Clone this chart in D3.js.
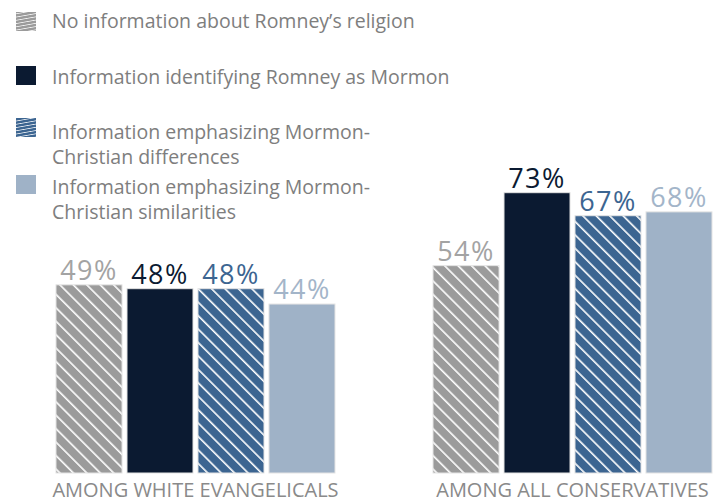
<!DOCTYPE html>
<html>
<head>
<meta charset="utf-8">
<script src="https://cdn.jsdelivr.net/npm/d3@7"></script>
<style>
  body { margin: 0; background: #fff; }
  text { font-family: "Open Sans", sans-serif; }
</style>
</head>
<body>
<div id="chart"></div>
<script>
const groups = ["AMONG WHITE EVANGELICALS", "AMONG ALL CONSERVATIVES"];
const series = ["none", "mormon", "differences", "similarities"];
const legendLabels = [
  ["No information about Romney\u2019s religion"],
  ["Information identifying Romney as Mormon"],
  ["Information emphasizing Mormon-", "Christian differences"],
  ["Information emphasizing Mormon-", "Christian similarities"]
];
const valuesEvangelicals = [49, 48, 48, 44];
const valuesConservatives = [54, 73, 67, 68];

const width = 713, height = 504;
const colors = { none: "#9b9b9b", mormon: "#0b1a31", differences: "#3c6591", similarities: "#9fb2c7" };
const labelColors = { none: "#a3a3a3", mormon: "#0b1a31", differences: "#3c6591", similarities: "#a3b5c9" };

const data = groups.map((g, i) => ({
  group: g,
  values: series.map((s, j) => ({ key: s, value: [valuesEvangelicals, valuesConservatives][i][j] }))
}));

const svg = d3.select("#chart").append("svg")
  .attr("width", width)
  .attr("height", height);

// hatch patterns
const defs = svg.append("defs");
function hatch(id, base, size, stroke, angle) {
  const p = defs.append("pattern")
    .attr("id", id)
    .attr("patternUnits", "userSpaceOnUse")
    .attr("width", size)
    .attr("height", size)
    .attr("patternTransform", "rotate(" + angle + ")");
  p.append("rect").attr("width", size).attr("height", size).attr("fill", base);
  p.append("line")
    .attr("x1", 0).attr("y1", 0).attr("x2", 0).attr("y2", size)
    .attr("stroke", "#fff").attr("stroke-width", stroke);
}
hatch("hatch-none", colors.none, 9.5, 3.2, -45);
hatch("hatch-differences", colors.differences, 9.5, 3.2, -45);
hatch("leg-none", colors.none, 3.2, 1.4, 80);
hatch("leg-differences", colors.differences, 3.2, 1.4, 80);

const fillFor = s => s === "none" ? "url(#hatch-none)" : s === "differences" ? "url(#hatch-differences)" : colors[s];
const legFill = s => s === "none" ? "url(#leg-none)" : s === "differences" ? "url(#leg-differences)" : colors[s];

const x0 = d3.scaleBand()
  .domain(groups)
  .range([56, 712])
  .paddingInner(0.26);

const x1 = d3.scaleBand()
  .domain(series)
  .range([0, x0.bandwidth()])
  .paddingInner(0.07);

const y = d3.scaleLinear()
  .domain([0, 100])
  .range([473, 89]);

const g = svg.selectAll("g.group")
  .data(data)
  .enter().append("g")
    .attr("class", "group")
    .attr("transform", d => "translate(" + x0(d.group) + ",0)");

g.selectAll("rect")
  .data(d => d.values)
  .enter().append("rect")
    .attr("x", d => x1(d.key))
    .attr("y", d => y(d.value))
    .attr("width", x1.bandwidth())
    .attr("height", d => y(0) - y(d.value))
    .attr("fill", d => fillFor(d.key))
    .attr("stroke", "#e4e4e4")
    .attr("stroke-width", 1);

g.selectAll("text.val")
  .data(d => d.values)
  .enter().append("text")
    .attr("class", "val")
    .attr("x", d => x1(d.key) + x1.bandwidth() / 2)
    .attr("y", d => y(d.value) - 5)
    .attr("text-anchor", "middle")
    .attr("font-size", 27)
    .attr("letter-spacing", 1.5)
    .attr("fill", d => labelColors[d.key])
    .text(d => d.value + "%");

g.append("text")
  .attr("x", x0.bandwidth() / 2)
  .attr("y", 497)
  .attr("text-anchor", "middle")
  .attr("font-size", 20)
  .attr("fill", "#8a8a8a")
  .text(d => d.group);

// legend
const legendY = [12, 66, 118, 175];
const legendBase = [28, 84, 139, 194];
const leg = svg.selectAll("g.legend")
  .data(series)
  .enter().append("g")
    .attr("class", "legend");

leg.append("rect")
  .attr("x", 16)
  .attr("y", (d, i) => legendY[i])
  .attr("width", 20)
  .attr("height", 19)
  .attr("fill", d => legFill(d));

leg.append("text")
  .attr("y", (d, i) => legendBase[i])
  .attr("font-size", 19.5)
  .attr("fill", "#7e7e7e")
  .selectAll("tspan")
  .data((d, i) => legendLabels[i])
  .enter().append("tspan")
    .attr("x", 52)
    .attr("dy", (d, i) => i === 0 ? 0 : 25)
    .text(d => d);
</script>
</body>
</html>
